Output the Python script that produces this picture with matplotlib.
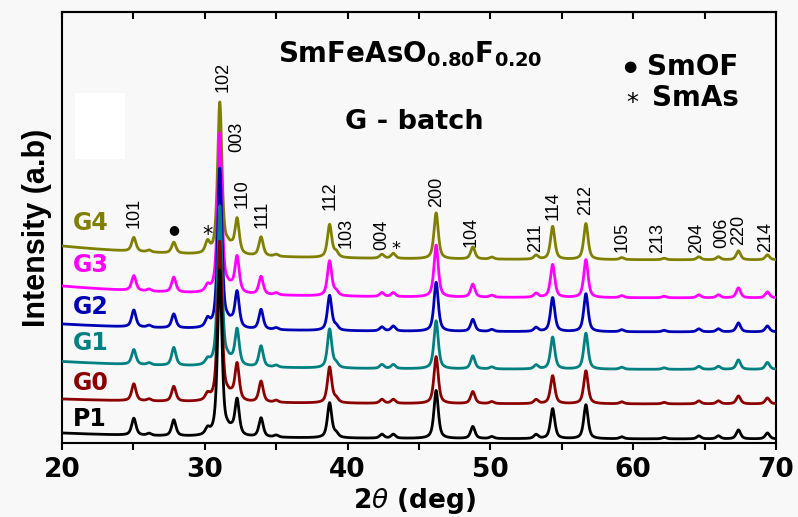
import numpy as np
import matplotlib
matplotlib.use("Agg")
import matplotlib.pyplot as plt
from matplotlib.patches import Rectangle

plt.rcParams['mathtext.default'] = 'regular'
plt.rcParams['mathtext.fontset'] = 'dejavusans'

# reflection positions (2theta, deg)
peak_pos = [25.03, 26.1, 27.83, 30.19, 31.05, 31.59, 31.87, 32.26, 33.94, 35.0,
            38.74, 39.2, 42.4, 43.2, 46.2, 48.77, 50.1, 53.2, 54.36, 56.69,
            59.2, 62.17, 64.6, 65.97, 67.37, 69.4]

# peak heights for each sample (same order as peak_pos)
h_P1 = [17, 2, 16, 6, 166, 4, 4, 36, 19, 2, 35, 4, 4, 4, 48, 12, 2, 4, 30, 34, 2, 1.5, 3, 3, 9, 6]
h_G0 = [17, 2, 15, 6, 160, 4, 4, 37, 21, 2, 36, 4, 4, 4, 47, 12, 2, 4, 28, 33, 2, 1.5, 3, 3, 8, 6]
h_G1 = [15, 2, 18, 5, 160, 4, 3, 36, 21, 2, 39, 4, 4, 4, 48, 13, 2, 4, 32, 36, 2, 1.5, 3, 3, 9.5, 7]
h_G2 = [17, 2, 14, 8, 160, 4, 4, 36, 20, 2, 35, 4, 4, 5, 49, 12, 2, 4, 34, 38, 2, 1.5, 3, 3, 9, 6]
h_G3 = [15, 2, 15, 6, 160, 4, 4, 36, 18, 2, 35, 4, 4, 4, 52, 13, 2, 4, 33, 38, 2, 1.5, 3, 3, 10, 6]
h_G4 = [14, 2, 11, 11, 152, 6, 5, 35, 19, 2, 33, 5, 4, 5, 46, 12, 2, 4, 33, 36, 2, 1.5, 3, 3, 9, 5]

samples = ['P1', 'G0', 'G1', 'G2', 'G3', 'G4']
heights = [h_P1, h_G0, h_G1, h_G2, h_G3, h_G4]
colors = ['#000000', '#8b0000', '#008080', '#0000b4', '#ff00ff', '#808000']
# stacked baseline level at 20 deg and at 70 deg
base_start = [10, 44, 81.5, 119, 157, 197]
base_end = [4, 39, 73.5, 111, 145, 183]
label_y = [24, 60, 100, 136, 178, 220]

# hkl labels: (text, 2theta, bottom of label)
hkl = ['101', '102', '003', '110', '111', '112', '103', '004', '200', '104',
       '211', '114', '212', '105', '213', '204', '006', '220', '214']
hkl_x = [25.03, 31.26, 32.24, 32.6, 34.0, 38.8, 39.9, 42.4, 46.2, 48.65,
         53.2, 54.36, 56.7, 59.25, 61.7, 64.45, 66.2, 67.4, 69.3]
hkl_y = [215, 351, 291, 235, 215, 233, 195, 193, 236, 196,
         191, 223, 228, 191, 190, 190, 195, 198, 191]


def pseudo_voigt(x, x0, h, fwhm=0.36, eta=0.65):
    g = np.exp(-4 * np.log(2) * ((x - x0) / fwhm) ** 2)
    lz = 1 / (1 + 4 * ((x - x0) / fwhm) ** 2)
    return h * (eta * lz + (1 - eta) * g)


tt = np.linspace(20, 70, 5001)

fig = plt.figure(figsize=(7.98, 5.17), dpi=100, facecolor='#f8f8f8')
ax = fig.add_axes([0.0777, 0.1431, 0.8947, 0.8337])
ax.set_facecolor('#f8f8f8')
ax.add_patch(Rectangle((0.018, 0.66), 0.07, 0.153, transform=ax.transAxes,
                       facecolor='white', edgecolor='none', zorder=0))

for i in range(len(samples) - 1, -1, -1):
    y = base_end[i] + (base_start[i] - base_end[i]) * np.exp(-(tt - 20) / 10)
    for x0, h in zip(peak_pos, heights[i]):
        y = y + pseudo_voigt(tt, x0, h)
    ax.plot(tt, y, color=colors[i], lw=2.0, zorder=10 - i)
    ax.text(20.75, label_y[i], samples[i], color=colors[i], fontsize=17,
            fontweight='bold', ha='left', va='center')

for t, x, yb in zip(hkl, hkl_x, hkl_y):
    ax.text(x, yb, t, rotation=90, ha='center', va='bottom', fontsize=13,
            family=['Liberation Sans', 'DejaVu Sans'])

# impurity phase marks
ax.text(27.83, 213, '\u25CF', fontsize=9, ha='center', va='center')
ax.text(30.2, 208, '*', fontsize=15, ha='center', va='center')
ax.text(43.4, 194, '*', fontsize=13, ha='center', va='center')

ax.text(35.1, 381, r'SmFeAsO$_{0.80}$F$_{0.20}$', fontsize=20, fontweight='bold')
ax.text(39.8, 314, 'G - batch', fontsize=19.5, fontweight='bold')
ax.text(59.75, 376, '\u25CF', fontsize=11, ha='center', va='center')
ax.text(61.0, 376, 'SmOF', fontsize=20, fontweight='bold', va='center')
ax.text(59.9, 340, '*', fontsize=17, ha='center', va='center')
ax.text(61.35, 345, 'SmAs', fontsize=20, fontweight='bold', va='center')

ax.set_xlim(20, 70)
ax.set_ylim(0, 431)
ax.set_yticks([])
ax.set_xticks(np.arange(20, 71, 10))
ax.set_xticks(np.arange(25, 70, 10), minor=True)
ax.tick_params(axis='x', which='both', direction='out', length=5, width=1.5, pad=5)
for lab in ax.get_xticklabels():
    lab.set_fontsize(19)
    lab.set_fontweight('bold')

top = ax.secondary_xaxis('top')
top.set_xticks(np.arange(20, 71, 5))
top.tick_params(direction='in', length=5, width=1.5, labeltop=False)

for sp in ax.spines.values():
    sp.set_linewidth(1.5)
top.spines['top'].set_linewidth(1.5)

ax.set_xlabel(r'2$\mathit{\theta}$ (deg)', fontsize=19, fontweight='bold')
ax.xaxis.set_label_coords(0.494, -0.1)
ax.set_ylabel('Intensity (a.b)', fontsize=22, fontweight='bold',
              family=['Liberation Sans', 'DejaVu Sans'])
ax.yaxis.set_label_coords(-0.014, 0.5)

fig.savefig('out.png', dpi=100, facecolor=fig.get_facecolor())
